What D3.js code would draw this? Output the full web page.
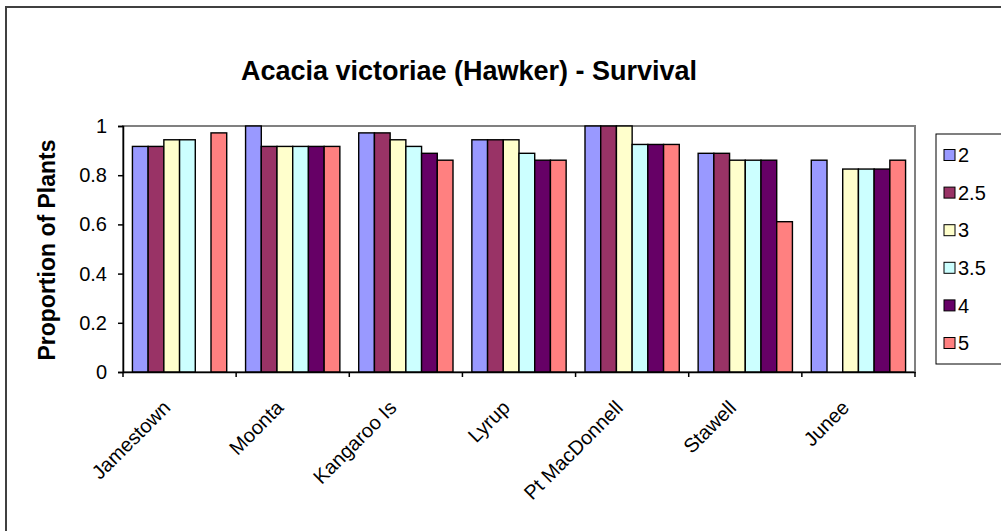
<!DOCTYPE html>
<html>
<head>
<meta charset="utf-8">
<script src="https://cdn.jsdelivr.net/npm/d3@7"></script>
<style>
  body { margin: 0; background: #fff; }
  svg { display: block; font-family: "Liberation Sans", Arial, sans-serif; }
</style>
</head>
<body>
<script>
// Data
const sites = ["Jamestown", "Moonta", "Kangaroo Is", "Lyrup", "Pt MacDonnell", "Stawell", "Junee"];
const series = ["2", "2.5", "3", "3.5", "4", "5"];
const colors = ["#9999FF", "#993366", "#FFFFCC", "#CCFFFF", "#660066", "#FF8080"];
// one array per series, one value per site (null = no bar)
const s2   = [0.917, 1.0,   0.972, 0.944, 1.0,   0.889, 0.861];
const s2_5 = [0.917, 0.917, 0.972, 0.944, 1.0,   0.889, null];
const s3   = [0.944, 0.917, 0.944, 0.944, 1.0,   0.861, 0.825];
const s3_5 = [0.944, 0.917, 0.917, 0.889, 0.925, 0.861, 0.825];
const s4   = [null,  0.917, 0.889, 0.861, 0.925, 0.861, 0.825];
const s5   = [0.972, 0.917, 0.861, 0.861, 0.925, 0.611, 0.861];
const values = [s2, s2_5, s3, s3_5, s4, s5];
const yTicks = [0, 0.2, 0.4, 0.6, 0.8, 1];

const W = 1001, H = 531;
const plot = {left: 123, right: 915, top: 126, bottom: 372};

const svg = d3.select("body").append("svg")
  .attr("width", W)
  .attr("height", H);

// outer chart border (only top/left visible)
svg.append("rect")
  .attr("x", 6).attr("y", 7)
  .attr("width", W + 20).attr("height", H + 20)
  .attr("fill", "#fff")
  .attr("stroke", "#404040")
  .attr("stroke-width", 2);

const x0 = d3.scaleBand()
  .domain(sites)
  .range([plot.left, plot.right]);

const x1 = d3.scaleBand()
  .domain(series)
  .range([0, x0.bandwidth()])
  .paddingOuter(0.6);

const y = d3.scaleLinear()
  .domain([0, 1])
  .range([plot.bottom, plot.top]);

// plot area frame
svg.append("rect")
  .attr("x", plot.left).attr("y", plot.top)
  .attr("width", plot.right - plot.left)
  .attr("height", plot.bottom - plot.top)
  .attr("fill", "none")
  .attr("stroke", "#808080")
  .attr("stroke-width", 2);

// bars
const groups = svg.append("g")
  .selectAll("g")
  .data(series)
  .join("g")
  .attr("fill", (d, i) => colors[i]);

groups.selectAll("rect")
  .data((s, i) => sites.map((site, j) => ({site, s, v: values[i][j]})).filter(d => d.v != null))
  .join("rect")
  .attr("x", d => x0(d.site) + x1(d.s))
  .attr("y", d => y(d.v))
  .attr("width", x1.bandwidth())
  .attr("height", d => y(0) - y(d.v))
  .attr("stroke", "#000")
  .attr("stroke-width", 1.4);

// y axis
const yAxis = svg.append("g")
  .attr("transform", `translate(${plot.left},0)`)
  .call(d3.axisLeft(y).tickValues(yTicks).tickSize(5).tickPadding(11).tickFormat(d3.format("")));
yAxis.select(".domain").attr("stroke", "#000").attr("stroke-width", 1.5);
yAxis.selectAll(".tick line").attr("stroke", "#000").attr("stroke-width", 1.5);
yAxis.selectAll(".tick text")
  .attr("font-size", 20)
  .attr("font-family", "Liberation Sans, Arial, sans-serif")
  .attr("fill", "#000");

// x axis: ticks at category boundaries
const xAxis = svg.append("g")
  .attr("transform", `translate(0,${plot.bottom})`)
  .call(d3.axisBottom(x0).tickSize(0).tickFormat(""));
xAxis.select(".domain").attr("stroke", "#000").attr("stroke-width", 1.5);
xAxis.selectAll(".tick").remove();

const bounds = sites.map(s => x0(s)).concat([plot.right]);
xAxis.selectAll(".bound")
  .data(bounds)
  .join("line")
  .attr("class", "bound")
  .attr("x1", d => d).attr("x2", d => d)
  .attr("y1", 0).attr("y2", 5)
  .attr("stroke", "#000")
  .attr("stroke-width", 1.5);

xAxis.selectAll(".lbl")
  .data(sites)
  .join("text")
  .attr("class", "lbl")
  .attr("text-anchor", "end")
  .attr("font-size", 20)
  .attr("fill", "#000")
  .attr("transform", d => `translate(${x0(d) + x0.bandwidth() / 2 - 8},${37}) rotate(-45)`)
  .text(d => d);

// axis title
svg.append("text")
  .attr("transform", `translate(55,${(plot.top + plot.bottom) / 2 + 1}) rotate(-90)`)
  .attr("text-anchor", "middle")
  .attr("font-size", 23)
  .attr("font-weight", "bold")
  .text("Proportion of Plants");

// chart title
svg.append("text")
  .attr("x", 469).attr("y", 80)
  .attr("text-anchor", "middle")
  .attr("font-size", 27)
  .attr("font-weight", "bold")
  .text("Acacia victoriae (Hawker) - Survival");

// legend
const legend = svg.append("g");
legend.append("rect")
  .attr("x", 936).attr("y", 134)
  .attr("width", 80).attr("height", 230)
  .attr("fill", "#fff")
  .attr("stroke", "#000")
  .attr("stroke-width", 1);

const ly = d3.scalePoint()
  .domain(series)
  .range([155, 343]);

const items = legend.selectAll(".item")
  .data(series)
  .join("g")
  .attr("class", "item")
  .attr("transform", d => `translate(944,${ly(d)})`);
items.append("rect")
  .attr("x", 0).attr("y", -5.5)
  .attr("width", 11).attr("height", 11)
  .attr("fill", (d, i) => colors[i])
  .attr("stroke", "#000");
items.append("text")
  .attr("x", 14).attr("dy", "0.36em")
  .attr("font-size", 20)
  .text(d => d);
</script>
</body>
</html>
